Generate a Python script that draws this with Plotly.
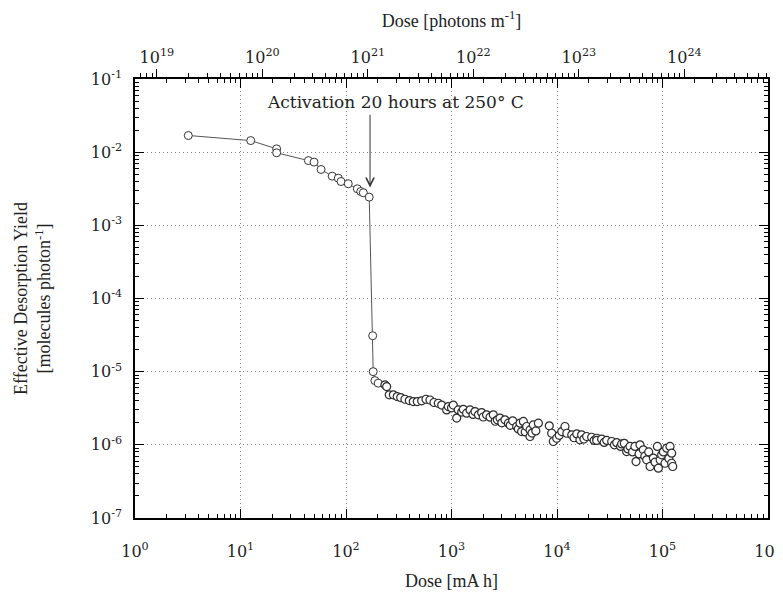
import numpy as np
import plotly.graph_objects as go

# dose in mA h, yield in molecules/photon
dose_pre = [3.2, 12.5, 22, 22, 44, 49.8, 58, 74, 84.5, 89.7, 105, 128, 138, 146, 166, 179, 181, 188, 202]
yield_pre = [1.69e-2, 1.44e-2, 1.11e-2, 9.8e-3, 7.67e-3, 7.31e-3, 5.8e-3, 4.7e-3, 4.41e-3, 3.97e-3,
             3.7e-3, 3.16e-3, 2.9e-3, 2.79e-3, 2.43e-3, 3.1e-5, 1.0e-5, 7.55e-6, 6.96e-6]

dose_post = [234, 243, 257, 281, 306, 330, 362, 398, 434, 474, 521, 573, 625, 682, 750, 807, 900, 933,
             1000, 1040, 1120, 1160, 1250, 1295, 1390, 1500, 1600, 1670, 1800, 1930, 2000, 2150, 2320,
             2490, 2600, 2720, 2880, 3000, 3210, 3460, 3600, 3800, 4150, 4300, 4460, 4620, 4800, 5000,
             5160, 5550, 5550, 5800, 5970, 6300, 6660,
             8450, 8900, 9220, 9930, 10500, 11100, 11900, 12400, 13800, 14500, 15400, 16500, 17100,
             18000, 19100, 21300, 22500, 23800, 23800, 26500, 28000, 29600, 33000, 35000, 36800, 40000,
             41000, 43400, 45700, 47000, 49200, 52000, 54800, 56100, 60000, 61200, 65800, 68000, 70800,
             74000, 76200, 81900, 85000, 89400, 91400, 95000, 98200, 102000, 105700, 109600, 115000,
             117800, 122000, 122200, 125000]
yield_post = [6.6e-6, 6.26e-6, 4.82e-6, 4.82e-6, 4.57e-6, 4.43e-6, 4.2e-6, 4.03e-6, 3.9e-6, 3.9e-6,
              3.99e-6, 4.2e-6, 4.1e-6, 3.79e-6, 3.7e-6, 3.5e-6, 3.0e-6, 3.33e-6,
              3.2e-6, 3.5e-6, 2.32e-6, 3.0e-6, 2.8e-6, 3.06e-6, 2.71e-6, 3.0e-6, 2.6e-6, 2.85e-6,
              2.57e-6, 2.76e-6, 2.4e-6, 2.57e-6, 2.39e-6,
              2.57e-6, 2.1e-6, 2.2e-6, 2.32e-6, 2.0e-6, 2.2e-6, 1.98e-6, 1.85e-6, 2.13e-6, 1.78e-6,
              1.65e-6, 1.98e-6, 1.52e-6, 2.09e-6, 1.5e-6,
              1.78e-6, 1.6e-6, 1.3e-6, 1.45e-6, 1.87e-6, 1.55e-6, 1.98e-6,
              1.82e-6, 1.44e-6, 1.11e-6, 1.23e-6, 1.35e-6, 1.52e-6, 1.78e-6, 1.44e-6, 1.37e-6, 1.25e-6,
              1.41e-6, 1.17e-6, 1.37e-6,
              1.2e-6, 1.3e-6, 1.27e-6, 1.15e-6, 1.23e-6, 1.15e-6, 1.2e-6, 1.08e-6, 1.15e-6, 1.11e-6,
              1.0e-6, 1.07e-6, 9.5e-7,
              1.03e-6, 1.05e-6, 8.1e-7, 8.8e-7, 9.5e-7, 8.0e-7, 9.5e-7, 5.9e-7, 7.5e-7, 1.0e-6,
              8.55e-7, 7.0e-7, 6.24e-7,
              8.0e-7, 5.06e-7, 6.6e-7, 5.8e-7, 9.5e-7, 4.8e-7, 6.2e-7, 7.3e-7, 8.0e-7, 5.6e-7, 9.0e-7,
              6.5e-7, 9.5e-7, 5.6e-7, 7.7e-7, 5.06e-7]

photons_per_mah = 6.2e18  # top axis conversion
x_ticks = [1, 10, 100, 1e3, 1e4, 1e5, 1e6]
x_labels = ["10<sup>%d</sup>" % i for i in range(0, 7)]
y_ticks = [1e-7, 1e-6, 1e-5, 1e-4, 1e-3, 1e-2, 1e-1]
y_labels = ["10<sup>%d</sup>" % i for i in range(-7, 0)]
top_ticks = [1e19, 1e20, 1e21, 1e22, 1e23, 1e24]
top_labels = ["10<sup>%d</sup>" % i for i in range(19, 25)]

def minors(lo, hi):
    return [m * 10.0 ** e for e in range(lo, hi) for m in range(2, 10)]

serif = "DejaVu Serif"
times = "Liberation Serif"
ink = "#222"
mk = dict(symbol="circle", size=8, color="white", line=dict(color="#333", width=1))
mk_dense = dict(symbol="circle", size=8, color="white", line=dict(color="#2a2a2a", width=1.2))

fig = go.Figure()
fig.add_trace(go.Scatter(x=dose_pre, y=yield_pre, mode="lines+markers",
                         line=dict(color="#555", width=1), marker=mk, showlegend=False))
fig.add_trace(go.Scatter(x=dose_post, y=yield_post, mode="markers", marker=mk_dense, showlegend=False))
# invisible trace to activate the top axis
fig.add_trace(go.Scatter(x=[photons_per_mah * 3.2], y=[yield_pre[0]], xaxis="x2", mode="markers",
                         marker=dict(opacity=0), showlegend=False, hoverinfo="skip"))

axis_common = dict(showline=True, linecolor="black", linewidth=1.5, automargin=False,
                   tickfont=dict(family=serif, size=16, color=ink))
grid = dict(showgrid=True, gridcolor="#888", griddash="1px,3px", gridwidth=1)
title_font = dict(family=times, size=18, color=ink)

# page has an 8px body margin; the figure is shifted by it
fig.update_layout(
    width=783, height=588,
    margin=dict(l=127, r=23, t=71, b=78),
    plot_bgcolor="white", paper_bgcolor="white",
    xaxis=dict(type="log", range=[0, 6], tickvals=x_ticks, ticktext=x_labels,
               ticks="inside", ticklen=9, tickcolor="black", mirror="ticks",
               zeroline=False, ticklabelstandoff=18,
               minor=dict(tickvals=minors(0, 6), ticks="inside", ticklen=4, tickcolor="black", showgrid=False),
               title=dict(text="Dose [mA h]", font=title_font, standoff=14),
               **grid, **axis_common),
    xaxis2=dict(type="log", overlaying="x", side="top",
                range=[np.log10(photons_per_mah), np.log10(photons_per_mah * 1e6)],
                tickvals=top_ticks, ticktext=top_labels,
                ticks="outside", ticklen=8, tickcolor="black", showgrid=False, zeroline=False,
                minor=dict(tickvals=minors(18, 25), ticks="outside", ticklen=4, tickcolor="black", showgrid=False),
                title=dict(text="Dose [photons m<sup>-1</sup>]", font=title_font, standoff=16),
                **axis_common),
    yaxis=dict(type="log", range=[-7, -1], tickvals=y_ticks, ticktext=y_labels,
               ticks="inside", ticklen=9, tickcolor="black", mirror="ticks",
               zeroline=False, ticklabelstandoff=8,
               minor=dict(tickvals=minors(-7, -1), ticks="inside", ticklen=4, tickcolor="black", showgrid=False),
               title=dict(text="Effective Desorption Yield<br>[molecules photon<sup>-1</sup>]",
                          font=title_font, standoff=35),
               **grid, **axis_common),
    annotations=[
        dict(x=np.log10(169), y=np.log10(3.3e-3), ax=np.log10(169), ay=np.log10(3.4e-2),
             xref="x", yref="y", axref="x", ayref="y",
             showarrow=True, arrowhead=5, arrowsize=1.6, arrowwidth=1, arrowcolor="#333", text=""),
        dict(x=np.log10(296), y=np.log10(4.9e-2), xref="x", yref="y", showarrow=False,
             text="Activation 20 hours at 250° C", font=dict(family=serif, size=17, color=ink)),
    ],
)

fig.write_html("out.html")
